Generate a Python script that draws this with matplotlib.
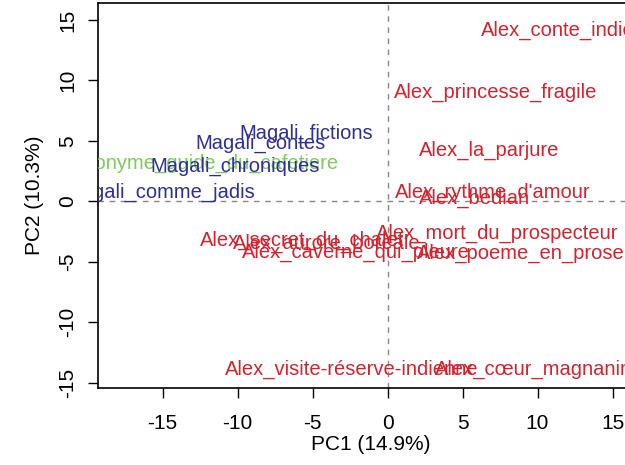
import matplotlib.pyplot as plt

plt.rcParams['font.family'] = ['Liberation Sans', 'DejaVu Sans']
plt.rcParams['axes.unicode_minus'] = False

# textes (centre du libellé = coordonnées PCA)
alex_labels = ['Alex_conte_indien', 'Alex_princesse_fragile', 'Alex_la_parjure',
               "Alex_rythme_d'amour", 'Alex_bedian', 'Alex_mort_du_prospecteur',
               'Alex_poeme_en_prose', 'Alex_secret_du_chalet', 'Alex_aurore_boreale',
               'Alex_caverne_qui_pleure', 'Alex_visite-réserve-indienne',
               'Alex_cœur_magnanime']
alex_pc1 = [11.7, 7.2, 6.8, 7.0, 5.8, 7.3, 8.9, -5.7, -4.05, -2.1, -2.4, 10.3]
alex_pc2 = [14.1, 9.0, 4.2, 0.75, 0.25, -2.7, -4.3, -3.2, -3.5, -4.2, -13.9, -13.9]

magali_labels = ['Magali_fictions', 'Magali_contes', 'Magali_chroniques',
                 'Magali_comme_jadis']
magali_pc1 = [-5.45, -8.5, -10.15, -15.15]
magali_pc2 = [5.6, 4.8, 2.9, 0.75]

anon_labels = ['Anonyme_guide_du_cafetiere']
anon_pc1 = [-12.2]
anon_pc2 = [3.1]

fig = plt.figure(figsize=(6.25, 4.65), dpi=100)
ax = fig.add_axes([0.157, 0.1656, 0.871, 0.828])
ax.set_xlim(-19.3, 17.0)
ax.set_ylim(-15.45, 16.4)

ax.axhline(0, color='#888888', ls=(0, (4, 4)), lw=1)
ax.axvline(0, color='#888888', ls=(0, (4, 4)), lw=1)

FS = 14.5
for lab, x, y in zip(anon_labels, anon_pc1, anon_pc2):
    ax.text(x, y, lab, color='#7DCB5C', fontsize=FS, ha='center', va='center', clip_on=True)
for lab, x, y in zip(magali_labels, magali_pc1, magali_pc2):
    ax.text(x, y, lab, color='#2E2F95', fontsize=FS, ha='center', va='center', clip_on=True)
for lab, x, y in zip(alex_labels, alex_pc1, alex_pc2):
    ax.text(x, y, lab, color='#D2232E', fontsize=FS, ha='center', va='center', clip_on=True)

ax.set_xticks([-15, -10, -5, 0, 5, 10, 15])
ax.set_yticks([-15, -10, -5, 0, 5, 10, 15])
ax.tick_params(direction='out', length=7, width=1, labelsize=15)
ax.tick_params(axis='x', pad=12)
ax.tick_params(axis='y', pad=8)
for t in ax.get_yticklabels():
    t.set_rotation(90)
    t.set_va('center')
for s in ax.spines.values():
    s.set_linewidth(1.2)
ax.set_xlabel('PC1 (14.9%)', fontsize=15, labelpad=1)
ax.set_ylabel('PC2 (10.3%)', fontsize=15, labelpad=10)

fig.savefig('out.png', dpi=100)
